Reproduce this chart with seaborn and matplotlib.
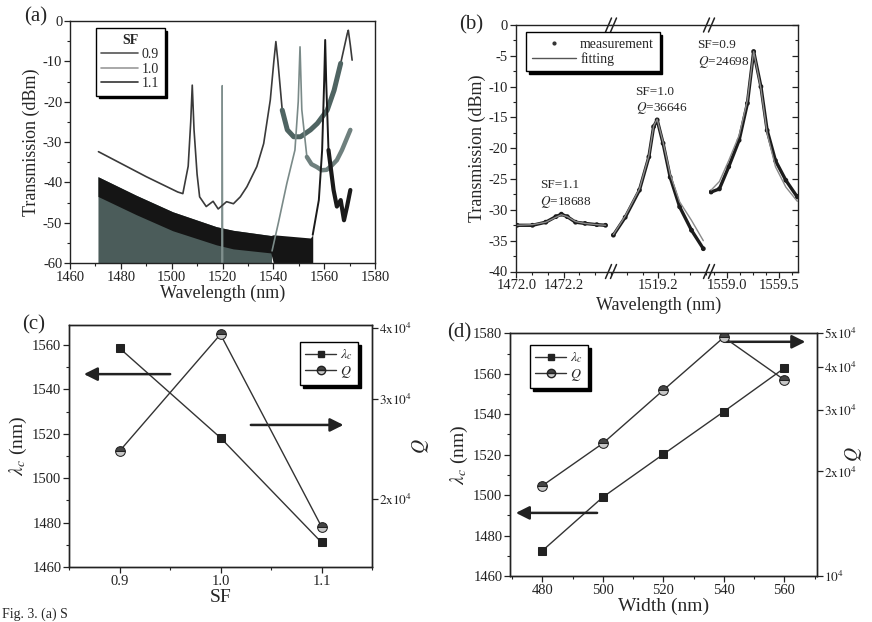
import matplotlib
matplotlib.use("Agg")
import numpy as np
import pandas as pd
import matplotlib.pyplot as plt
import seaborn as sns
from matplotlib.ticker import MultipleLocator, FixedLocator, NullLocator, FixedFormatter
from matplotlib.lines import Line2D

sns.set_style("ticks")
plt.rcParams['font.family'] = ['Liberation Serif', 'DejaVu Serif']
plt.rcParams['mathtext.fontset'] = 'stix'
plt.rcParams['axes.unicode_minus'] = False
plt.rcParams['axes.edgecolor'] = '#222222'
plt.rcParams['xtick.color'] = '#222222'
plt.rcParams['ytick.color'] = '#222222'

# ---- panel (a): transmission spectra ----
a11_x = [1471.2, 1480, 1490, 1502.4, 1504.4, 1506.5, 1507.5, 1508.1, 1508.8, 1510, 1511,
         1513.6, 1516.3, 1518.3, 1521.6, 1524.3, 1527, 1529.6, 1533.5, 1536.2, 1538.8,
         1540.2, 1541.0, 1541.8, 1543.5, 1545.5, 1548, 1550.7, 1554.6, 1557.3, 1561.2,
         1563.9, 1566.5, 1569.1, 1569.5, 1570.3, 1571]
a11_y = [-32.4, -35.3, -38.6, -42.4, -42.8, -36, -25, -15.9, -27, -38, -43.6,
         -46, -44.7, -46.6, -44.8, -45.3, -43.6, -41.1, -36.1, -30.4, -19.6,
         -10, -5.1, -10, -22.1, -27, -28.7, -28.7, -27, -25.4, -22.1,
         -17.2, -10.5, -3.1, -2.3, -6, -9.7]

a10_fill_x = [1471, 1486, 1500.4, 1517.6, 1524.2, 1539.3]
a10_fill_top = [-38.6, -43.2, -47.3, -51, -51.9, -53.2]
a10_spike_x = [1519.7, 1519.9, 1520.1]
a10_spike_y = [-60, -16, -60]
a10_x = [1539.5, 1542, 1545.3, 1548.5, 1549.8, 1550.5, 1551.2, 1553.2, 1555, 1557.1,
         1559, 1561, 1563, 1565, 1567, 1570.3]
a10_y = [-57, -50, -40.3, -32, -20, -6.4, -22, -33.7, -35.5, -36.2,
         -37, -36.9, -35.8, -34.5, -32, -27]

a09_band_x = [1471, 1486, 1500.4, 1517.6, 1524.2, 1539, 1540, 1554.6, 1555.5]
a09_band_top = [-38.6, -43.2, -47.3, -51, -51.9, -53.2, -53, -53.8, -53]
a09_band_low = [-43.5, -48, -52, -55.5, -56.5, -57.5, -60, -60, -60]
a09_x = [1555.5, 1557.9, 1559.2, 1560.0, 1560.4, 1560.8, 1561.7, 1563.7, 1565,
         1566.5, 1567.8, 1569, 1570.3]
a09_y = [-53, -44.4, -32, -15, -4.7, -15, -32, -41.9, -46, -44.4, -49.4, -46, -41.9]

sf_labels = ['0.9', '1.0', '1.1']

# ---- panel (b): zoomed resonances, three broken-axis segments ----
b1_x = [1472.003, 1472.068, 1472.124, 1472.167, 1472.19, 1472.215, 1472.25, 1472.29,
        1472.34, 1472.377]
b1_meas = [-32.5, -32.5, -32.0, -31.1, -30.7, -31.1, -32.0, -32.2, -32.4, -32.5]
b1_fit = [-32.5, -32.4, -32.0, -31.2, -30.8, -31.1, -31.9, -32.2, -32.4, -32.5]

b2_x = [1519.01, 1519.06, 1519.12, 1519.16, 1519.18, 1519.195, 1519.22, 1519.25,
        1519.29, 1519.34, 1519.39]
b2_meas = [-34.1, -31.2, -26.8, -21.4, -16.5, -15.4, -19.2, -24.7, -29.5, -33.3, -36.3]
b2_fit = [-34.0, -31.0, -26.6, -21.2, -16.4, -15.3, -19.0, -24.2, -28.7, -31.7, -35.0]

b3_x = [1558.85, 1558.93, 1559.02, 1559.12, 1559.2, 1559.26, 1559.33, 1559.39,
        1559.47, 1559.57, 1559.68]
b3_meas = [-27.1, -26.6, -23.0, -18.7, -12.7, -4.3, -10.0, -17.1, -22.0, -25.2, -27.9]
b3_fit = [-26.8, -25.4, -22.0, -17.9, -12.2, -4.3, -10.3, -17.6, -23.0, -26.3, -28.6]

b_notes = ['SF=1.1', '$Q$=18688', 'SF=1.0', '$Q$=36646', 'SF=0.9', '$Q$=24698']

# ---- panel (c): resonance and Q vs SF ----
sf = [0.9, 1.0, 1.1]
c_lambda = [1558.6, 1518.2, 1471.1]
c_q = [24300, 39000, 17900]

# ---- panel (d): resonance and Q vs width ----
width = [480, 500, 520, 540, 560]
d_lambda = [1472.5, 1499.0, 1520.2, 1541.3, 1562.8]
d_q = [18200, 24100, 34300, 48700, 36700]

W, H = 872, 622
fig = plt.figure(figsize=(W / 100, H / 100), dpi=100)
TICK = 10.5
LAB = 13


def box(l, t, r, b):
    return [l / W, 1 - b / H, (r - l) / W, (b - t) / H]


def style_ticks(ax):
    ax.tick_params(which='major', direction='out', length=4, width=0.9, labelsize=TICK, pad=1.5)
    ax.tick_params(which='minor', direction='out', length=2.2, width=0.8)
    for s in ax.spines.values():
        s.set_linewidth(1.0)


leg_kw = dict(frameon=True, fancybox=False, edgecolor='black', framealpha=1,
              shadow={'color': 'black', 'alpha': 1}, fontsize=10, borderpad=0.4,
              handletextpad=0.3, labelspacing=0.1, borderaxespad=0)

# ================= (a) =================
ax = fig.add_axes(box(70, 21, 375, 263))
ax.fill_between(a10_fill_x, -60, a10_fill_top, color='#4b5c5a', lw=0)
ax.fill_between(a09_band_x, a09_band_low, a09_band_top, color='#151515', lw=0)
sns.lineplot(x=a10_spike_x, y=a10_spike_y, ax=ax, color='#7f8f8d', lw=1.0, sort=False)
df11 = pd.DataFrame({'x': a11_x, 'y': a11_y})
sns.lineplot(data=df11, x='x', y='y', ax=ax, color='#3a3a3a', lw=1.2, sort=False)
band = df11[(df11.x > 1542) & (df11.x < 1568)]
sns.lineplot(data=band, x='x', y='y', ax=ax, color='#4f6462', lw=3.6, sort=False)
df10 = pd.DataFrame({'x': a10_x, 'y': a10_y})
sns.lineplot(data=df10, x='x', y='y', ax=ax, color='#7a8a88', lw=1.2, sort=False)
sns.lineplot(data=df10[df10.x > 1552.5], x='x', y='y', ax=ax, color='#6f807e', lw=3.2, sort=False)
sns.lineplot(x=a09_x, y=a09_y, ax=ax, color='#1a1a1a', lw=1.4, sort=False)
sns.lineplot(x=a09_x[-7:], y=a09_y[-7:], ax=ax, color='#1a1a1a', lw=3.0, sort=False)
ax.set_xlim(1460, 1580)
ax.set_ylim(-60, 0)
ax.xaxis.set_major_locator(MultipleLocator(20))
ax.xaxis.set_minor_locator(MultipleLocator(10))
ax.yaxis.set_major_locator(MultipleLocator(10))
ax.yaxis.set_minor_locator(MultipleLocator(5))
style_ticks(ax)
ax.set_xlabel('Wavelength (nm)', fontsize=LAB, labelpad=1)
ax.set_ylabel('Transmission (dBm)', fontsize=LAB, labelpad=2)
handles = [Line2D([], [], color=c, lw=1.2) for c in ['#555555', '#9a9a9a', '#333333']]
ax.legend(handles, sf_labels, title='SF', loc='upper left', bbox_to_anchor=(0.085, 0.97),
          title_fontproperties={'weight': 'bold', 'size': 10}, handlelength=2.6, **leg_kw)
fig.text(24 / W, 1 - 17 / H, '(a)', fontsize=15, va='center')

# ================= (b) =================
edges = [515.7, 611, 709, 798.3]
axb = [fig.add_axes(box(edges[i], 25, edges[i + 1], 271.5)) for i in range(3)]
segs = [(b1_x, b1_meas, b1_fit), (b2_x, b2_meas, b2_fit), (b3_x, b3_meas, b3_fit)]
xlims = [(1471.997, 1472.40), (1519.0, 1519.414), (1558.83, 1559.69)]
xticks = [[1472.0, 1472.2], [1519.2], [1559.0, 1559.5]]
minors = [0.2 / 3, 0.2 / 3, 0.125]
for i, a in enumerate(axb):
    x, m, f = segs[i]
    sns.lineplot(x=x, y=m, ax=a, color='#1c1c1c', lw=2.4, sort=False)
    sns.scatterplot(x=x, y=m, ax=a, color='#1c1c1c', s=12, edgecolor='none')
    sns.lineplot(x=x, y=f, ax=a, color='#8a8a8a', lw=1.0, sort=False)
    a.set_xlim(*xlims[i])
    a.set_ylim(-40, 0)
    a.xaxis.set_major_locator(FixedLocator(xticks[i]))
    a.xaxis.set_major_formatter(FixedFormatter(['%.1f' % v for v in xticks[i]]))
    a.xaxis.set_minor_locator(MultipleLocator(minors[i]))
    a.yaxis.set_major_locator(MultipleLocator(5))
    a.yaxis.set_minor_locator(MultipleLocator(2.5))
    style_ticks(a)
axb[0].spines['right'].set_visible(False)
axb[1].spines['left'].set_visible(False)
axb[1].spines['right'].set_visible(False)
axb[2].spines['left'].set_visible(False)
axb[1].tick_params(axis='y', which='both', left=False, labelleft=False)
axb[2].tick_params(axis='y', which='both', left=False, labelleft=False, right=True, direction='in')
axb[0].set_ylabel('Transmission (dBm)', fontsize=LAB, labelpad=2)
fig.text(659 / W, 1 - 305 / H, 'Wavelength (nm)', fontsize=LAB, ha='center', va='center')
for xe in edges[1:3]:
    for ye in (25, 271.5):
        for dx in (-2.5, 2.5):
            fig.add_artist(Line2D([(xe + dx - 3) / W, (xe + dx + 3) / W],
                                  [1 - (ye + 7) / H, 1 - (ye - 7) / H], color='#222222', lw=1.1))
note_pos = [(axb[0], 1472.10, -26.0), (axb[0], 1472.10, -28.7),
            (axb[1], 1519.104, -10.8), (axb[1], 1519.104, -13.5),
            (axb[2], 1558.72, -3.2), (axb[2], 1558.72, -6.0)]
for (a, xx, yy), t in zip(note_pos, b_notes):
    a.text(xx, yy, t, fontsize=9.5, ha='left', va='center')
mh = [Line2D([], [], ls='none', marker='.', color='#333333', ms=4),
      Line2D([], [], color='#555555', lw=1.0)]
fig.legend(mh, ['measurement', 'fitting'], loc='upper left',
           bbox_to_anchor=(526 / W, 1 - 32 / H), handlelength=3.2, **leg_kw)
fig.text(459 / W, 1 - 25 / H, '(b)', fontsize=15, va='center')


# ================= (c) and (d) =================
def dual(rect, xs, lam, q, qlim, qticks, qlabels, qlab_x):
    a = fig.add_axes(rect)
    a2 = a.twinx()
    a2.set_yscale('log')
    sns.lineplot(x=xs, y=lam, ax=a, color='#333333', lw=1.0, marker='s', markersize=6,
                 markerfacecolor='#222222', markeredgecolor='#222222')
    sns.lineplot(x=xs, y=q, ax=a2, color='#333333', lw=1.0, marker='o', markersize=7,
                 fillstyle='top', markerfacecolor='#444444', markerfacecoloralt='#c8c8c8',
                 markeredgecolor='#222222')
    a2.set_ylim(*qlim)
    a2.yaxis.set_major_locator(FixedLocator(qticks))
    a2.yaxis.set_major_formatter(FixedFormatter(qlabels))
    a2.yaxis.set_minor_locator(NullLocator())
    style_ticks(a)
    style_ticks(a2)
    a2.tick_params(axis='y', labelsize=9.5, pad=1)
    a.set_ylabel(r'$\lambda_c$ (nm)', fontsize=LAB + 1, labelpad=2)
    a2.set_ylabel(r'$Q$', fontsize=LAB + 1)
    a2.yaxis.set_label_coords(qlab_x, 0.5)
    hh = [Line2D([], [], color='#333333', lw=1.0, marker='s', ms=5, mfc='#222222', mec='#222222'),
          Line2D([], [], color='#333333', lw=1.0, marker='o', ms=6, fillstyle='top',
                 mfc='#444444', mfcalt='#c8c8c8', mec='#222222')]
    return a, a2, hh


ax, ax2, hh = dual(box(69, 325, 372, 567), sf, c_lambda, c_q, (15200, 40500),
                   [2e4, 3e4, 4e4], [r'$2\mathrm{x}10^4$', r'$3\mathrm{x}10^4$', r'$4\mathrm{x}10^4$'],
                   1.125)
ax.set_xlim(0.85, 1.15)
ax.set_ylim(1460, 1569)
ax.xaxis.set_major_locator(FixedLocator([0.9, 1.0, 1.1]))
ax.xaxis.set_major_formatter(FixedFormatter(['0.9', '1.0', '1.1']))
ax.xaxis.set_minor_locator(MultipleLocator(0.05))
ax.yaxis.set_major_locator(MultipleLocator(20))
ax.yaxis.set_minor_locator(MultipleLocator(10))
ax.set_xlabel('SF', fontsize=LAB + 1, labelpad=1)
ax2.legend(hh, [r'$\lambda_c$', r'$Q$'], loc='upper right', bbox_to_anchor=(0.955, 0.93),
           handlelength=2.2, **leg_kw)
arrow = dict(arrowstyle='-|>', color='#222222', lw=1.8, mutation_scale=20)
ax.annotate('', xy=(0.04, 0.797), xytext=(0.343, 0.797), xycoords='axes fraction', arrowprops=arrow)
ax.annotate('', xy=(0.915, 0.587), xytext=(0.591, 0.587), xycoords='axes fraction', arrowprops=arrow)
fig.text(22 / W, 1 - 325 / H, '(c)', fontsize=15, va='center')

ax, ax2, hh = dual(box(510, 333.3, 816.7, 576), width, d_lambda, d_q, (1e4, 5e4),
                   [1e4, 2e4, 3e4, 4e4, 5e4],
                   [r'$10^4$', r'$2\mathrm{x}10^4$', r'$3\mathrm{x}10^4$',
                    r'$4\mathrm{x}10^4$', r'$5\mathrm{x}10^4$'], 1.085)
ax.set_xlim(469.3, 570.7)
ax.set_ylim(1460, 1580)
ax.xaxis.set_major_locator(MultipleLocator(20))
ax.xaxis.set_minor_locator(MultipleLocator(10))
ax.yaxis.set_major_locator(MultipleLocator(20))
ax.yaxis.set_minor_locator(MultipleLocator(10))
ax.set_xlabel('Width (nm)', fontsize=LAB + 1, labelpad=1)
ax2.legend(hh, [r'$\lambda_c$', r'$Q$'], loc='upper left', bbox_to_anchor=(0.065, 0.952),
           handlelength=2.2, **leg_kw)
ax.annotate('', xy=(0.972, 0.965), xytext=(0.690, 0.965), xycoords='axes fraction', arrowprops=arrow)
ax.annotate('', xy=(0.01, 0.26), xytext=(0.293, 0.26), xycoords='axes fraction', arrowprops=arrow)
fig.text(447 / W, 1 - 333 / H, '(d)', fontsize=15, va='center')

fig.text(0.002, 0.001, 'Fig. 3. (a) S', fontsize=10, va='bottom')

fig.savefig('out.png', dpi=100)
